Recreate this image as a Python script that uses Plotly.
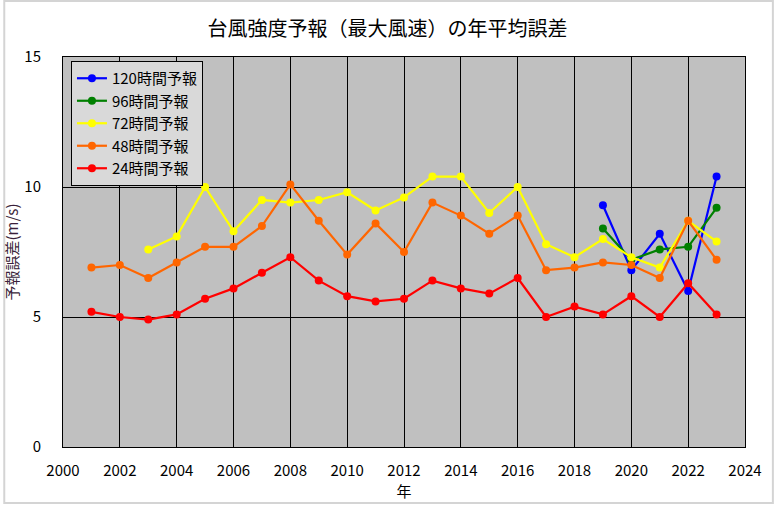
import plotly.graph_objects as go

years_24 = list(range(2001, 2024))
err_24 = [5.2, 5.0, 4.9, 5.1, 5.7, 6.1, 6.7, 7.3, 6.4, 5.8, 5.6, 5.7, 6.4, 6.1, 5.9, 6.5,
          5.0, 5.4, 5.1, 5.8, 5.0, 6.3, 5.1]
years_48 = list(range(2001, 2024))
err_48 = [6.9, 7.0, 6.5, 7.1, 7.7, 7.7, 8.5, 10.1, 8.7, 7.4, 8.6, 7.5, 9.4, 8.9, 8.2, 8.9,
          6.8, 6.9, 7.1, 7.0, 6.5, 8.7, 7.2]
years_72 = list(range(2003, 2024))
err_72 = [7.6, 8.1, 10.0, 8.3, 9.5, 9.4, 9.5, 9.8, 9.1, 9.6, 10.4, 10.4, 9.0, 10.0,
          7.8, 7.3, 8.0, 7.3, 6.9, 8.7, 7.9]
years_96 = [2019, 2020, 2021, 2022, 2023]
err_96 = [8.4, 7.2, 7.6, 7.7, 9.2]
years_120 = [2019, 2020, 2021, 2022, 2023]
err_120 = [9.3, 6.8, 8.2, 6.0, 10.4]

series = [
    ("120時間予報", years_120, err_120, "#0000ff"),
    ("96時間予報", years_96, err_96, "#008000"),
    ("72時間予報", years_72, err_72, "#ffff00"),
    ("48時間予報", years_48, err_48, "#ff6600"),
    ("24時間予報", years_24, err_24, "#ff0000"),
]

FONT = "Noto Sans CJK JP"
PW, PH = 685, 390

fig = go.Figure()
for name, xs, ys, c in series:
    fig.add_trace(go.Scatter(x=xs, y=ys, name=name, mode="lines+markers",
                             line=dict(color=c, width=2.2),
                             marker=dict(color=c, size=8)))

fig.update_layout(
    width=775, height=507,
    margin=dict(l=60, r=30, t=57, b=60),
    paper_bgcolor="white",
    plot_bgcolor="#c0c0c0",
    font=dict(family=FONT, color="black", size=14),
    title=dict(text="台風強度予報（最大風速）の年平均誤差", x=0.5, xanchor="center",
               y=1 - 29 / 507, yanchor="middle", font=dict(size=20, family=FONT)),
    showlegend=True,
    legend=dict(x=8 / PW, y=1 - 4 / PH, xanchor="left", yanchor="top",
                bgcolor="#d9d9d9", bordercolor="black", borderwidth=1,
                font=dict(size=15, family=FONT), tracegroupgap=0,
                entrywidth=132, entrywidthmode="pixels"),
    xaxis=dict(range=[2000, 2024], dtick=2, tick0=2000, showgrid=True,
               gridcolor="black", gridwidth=1, showline=True, linecolor="black",
               mirror=True, linewidth=1, zeroline=False, ticks="",
               ticklabelstandoff=10,
               title=dict(text="年", standoff=2, font=dict(size=15)),
               tickfont=dict(size=15)),
    yaxis=dict(range=[0, 15], dtick=5, showgrid=True, gridcolor="black", gridwidth=1,
               showline=True, linecolor="black", mirror=True, linewidth=1,
               zeroline=False, ticks="", ticklabelstandoff=18,
               title=dict(text="予報誤差(m/s)", standoff=2, font=dict(size=15, color="#3a1f3a")),
               tickfont=dict(size=15)),
    shapes=[dict(type="rect", xref="paper", yref="paper",
                 x0=-59 / PW, x1=713 / PW, y0=-56 / PH, y1=1 + 56 / PH,
                 line=dict(color="#d4d4d4", width=2), layer="below")],
)

fig.write_html("out.html")
